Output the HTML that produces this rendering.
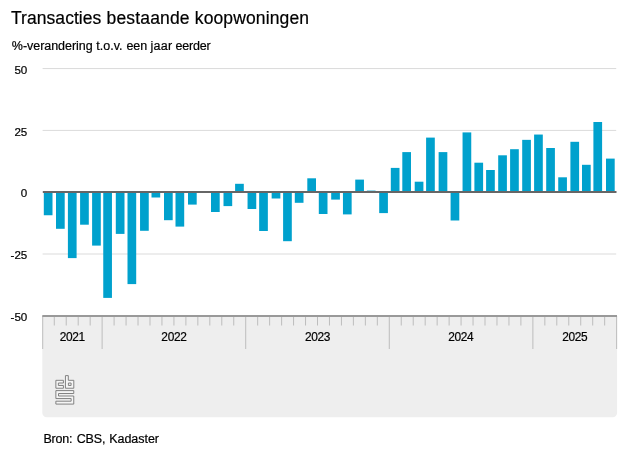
<!DOCTYPE html>
<html lang="nl"><head><meta charset="utf-8"><title>Transacties bestaande koopwoningen</title>
<style>
html,body{margin:0;padding:0;background:#fff;}
body{width:627px;height:470px;overflow:hidden;font-family:"Liberation Sans",Arial,sans-serif;}
svg{display:block}
text{font-family:"Liberation Sans",Arial,sans-serif;fill:#000;stroke:#000;stroke-width:0.2px}
</style></head><body>
<svg width="627" height="470" viewBox="0 0 627 470">
<rect width="627" height="470" fill="#fff"/>
<text y="23.5" font-size="17.5"><tspan x="10.96" letter-spacing="0.06">Transacties </tspan><tspan x="106.55" letter-spacing="0.16">bestaande </tspan><tspan x="194.75" letter-spacing="0.125">koopwoningen</tspan></text>
<text y="49.95" font-size="12.5"><tspan x="11.85" letter-spacing="-0.04">%-verandering </tspan><tspan x="96.35">t.o.v. </tspan><tspan x="126.4">een </tspan><tspan x="150.45" letter-spacing="0.3">jaar </tspan><tspan x="175.4" letter-spacing="-0.17">eerder</tspan></text>

<rect x="42.6" y="68.05" width="573.6" height="1" fill="#dbdbdb"/>
<rect x="42.6" y="129.90" width="573.6" height="1" fill="#dbdbdb"/>
<rect x="42.6" y="253.50" width="573.6" height="1" fill="#dbdbdb"/>
<path d="M42.3 316H617.1V412.7a4.5 4.5 0 0 1-4.5 4.5H46.8a4.5 4.5 0 0 1-4.5-4.5Z" fill="#eeeeee"/>
<rect x="42.20" y="316" width="1" height="33" fill="#bdbdbd"/>
<rect x="53.77" y="316" width="1" height="9.5" fill="#bdbdbd"/>
<rect x="65.73" y="316" width="1" height="9.5" fill="#bdbdbd"/>
<rect x="77.69" y="316" width="1" height="9.5" fill="#bdbdbd"/>
<rect x="89.66" y="316" width="1" height="9.5" fill="#bdbdbd"/>
<rect x="101.62" y="316" width="1" height="33" fill="#bdbdbd"/>
<rect x="113.59" y="316" width="1" height="9.5" fill="#bdbdbd"/>
<rect x="125.55" y="316" width="1" height="9.5" fill="#bdbdbd"/>
<rect x="137.52" y="316" width="1" height="9.5" fill="#bdbdbd"/>
<rect x="149.49" y="316" width="1" height="9.5" fill="#bdbdbd"/>
<rect x="161.45" y="316" width="1" height="9.5" fill="#bdbdbd"/>
<rect x="173.42" y="316" width="1" height="9.5" fill="#bdbdbd"/>
<rect x="185.38" y="316" width="1" height="9.5" fill="#bdbdbd"/>
<rect x="197.34" y="316" width="1" height="9.5" fill="#bdbdbd"/>
<rect x="209.31" y="316" width="1" height="9.5" fill="#bdbdbd"/>
<rect x="221.27" y="316" width="1" height="9.5" fill="#bdbdbd"/>
<rect x="233.24" y="316" width="1" height="9.5" fill="#bdbdbd"/>
<rect x="245.20" y="316" width="1" height="33" fill="#bdbdbd"/>
<rect x="257.17" y="316" width="1" height="9.5" fill="#bdbdbd"/>
<rect x="269.13" y="316" width="1" height="9.5" fill="#bdbdbd"/>
<rect x="281.10" y="316" width="1" height="9.5" fill="#bdbdbd"/>
<rect x="293.06" y="316" width="1" height="9.5" fill="#bdbdbd"/>
<rect x="305.03" y="316" width="1" height="9.5" fill="#bdbdbd"/>
<rect x="317.00" y="316" width="1" height="9.5" fill="#bdbdbd"/>
<rect x="328.96" y="316" width="1" height="9.5" fill="#bdbdbd"/>
<rect x="340.93" y="316" width="1" height="9.5" fill="#bdbdbd"/>
<rect x="352.89" y="316" width="1" height="9.5" fill="#bdbdbd"/>
<rect x="364.86" y="316" width="1" height="9.5" fill="#bdbdbd"/>
<rect x="376.82" y="316" width="1" height="9.5" fill="#bdbdbd"/>
<rect x="388.79" y="316" width="1" height="33" fill="#bdbdbd"/>
<rect x="400.75" y="316" width="1" height="9.5" fill="#bdbdbd"/>
<rect x="412.72" y="316" width="1" height="9.5" fill="#bdbdbd"/>
<rect x="424.68" y="316" width="1" height="9.5" fill="#bdbdbd"/>
<rect x="436.64" y="316" width="1" height="9.5" fill="#bdbdbd"/>
<rect x="448.61" y="316" width="1" height="9.5" fill="#bdbdbd"/>
<rect x="460.57" y="316" width="1" height="9.5" fill="#bdbdbd"/>
<rect x="472.54" y="316" width="1" height="9.5" fill="#bdbdbd"/>
<rect x="484.50" y="316" width="1" height="9.5" fill="#bdbdbd"/>
<rect x="496.47" y="316" width="1" height="9.5" fill="#bdbdbd"/>
<rect x="508.44" y="316" width="1" height="9.5" fill="#bdbdbd"/>
<rect x="520.40" y="316" width="1" height="9.5" fill="#bdbdbd"/>
<rect x="532.37" y="316" width="1" height="33" fill="#bdbdbd"/>
<rect x="544.33" y="316" width="1" height="9.5" fill="#bdbdbd"/>
<rect x="556.29" y="316" width="1" height="9.5" fill="#bdbdbd"/>
<rect x="568.26" y="316" width="1" height="9.5" fill="#bdbdbd"/>
<rect x="580.22" y="316" width="1" height="9.5" fill="#bdbdbd"/>
<rect x="592.19" y="316" width="1" height="9.5" fill="#bdbdbd"/>
<rect x="604.15" y="316" width="1" height="9.5" fill="#bdbdbd"/>
<rect x="616.12" y="316" width="1" height="33" fill="#bdbdbd"/>
<rect x="42.3" y="315" width="574.7" height="2" fill="#999"/>
<rect x="43.80" y="192.05" width="8.7" height="23.20" fill="#00a1cd"/>
<rect x="56.00" y="192.05" width="8.7" height="36.75" fill="#00a1cd"/>
<rect x="67.90" y="192.05" width="8.7" height="66.05" fill="#00a1cd"/>
<rect x="80.10" y="192.05" width="8.7" height="32.65" fill="#00a1cd"/>
<rect x="92.10" y="192.05" width="8.7" height="53.55" fill="#00a1cd"/>
<rect x="103.25" y="192.05" width="8.7" height="105.85" fill="#00a1cd"/>
<rect x="115.80" y="192.05" width="8.7" height="41.85" fill="#00a1cd"/>
<rect x="127.50" y="192.05" width="8.7" height="92.05" fill="#00a1cd"/>
<rect x="140.05" y="192.05" width="8.7" height="38.75" fill="#00a1cd"/>
<rect x="151.50" y="192.05" width="8.7" height="5.45" fill="#00a1cd"/>
<rect x="164.00" y="192.05" width="8.7" height="28.15" fill="#00a1cd"/>
<rect x="175.50" y="192.05" width="8.7" height="34.55" fill="#00a1cd"/>
<rect x="188.00" y="192.05" width="8.7" height="12.55" fill="#00a1cd"/>
<rect x="211.00" y="192.05" width="8.7" height="19.95" fill="#00a1cd"/>
<rect x="223.50" y="192.05" width="8.7" height="14.05" fill="#00a1cd"/>
<rect x="235.10" y="183.80" width="8.7" height="8.25" fill="#00a1cd"/>
<rect x="247.55" y="192.05" width="8.7" height="16.95" fill="#00a1cd"/>
<rect x="259.15" y="192.05" width="8.7" height="38.95" fill="#00a1cd"/>
<rect x="271.65" y="192.05" width="8.7" height="6.45" fill="#00a1cd"/>
<rect x="283.10" y="192.05" width="8.7" height="49.15" fill="#00a1cd"/>
<rect x="294.80" y="192.05" width="8.7" height="10.75" fill="#00a1cd"/>
<rect x="307.30" y="178.30" width="8.7" height="13.75" fill="#00a1cd"/>
<rect x="318.80" y="192.05" width="8.7" height="21.95" fill="#00a1cd"/>
<rect x="331.20" y="192.05" width="8.7" height="7.55" fill="#00a1cd"/>
<rect x="342.95" y="192.05" width="8.7" height="22.35" fill="#00a1cd"/>
<rect x="355.25" y="179.60" width="8.7" height="12.45" fill="#00a1cd"/>
<rect x="366.87" y="190.60" width="8.7" height="1.45" fill="#00a1cd"/>
<rect x="379.20" y="192.05" width="8.7" height="21.05" fill="#00a1cd"/>
<rect x="390.80" y="167.90" width="8.7" height="24.15" fill="#00a1cd"/>
<rect x="402.30" y="152.10" width="8.7" height="39.95" fill="#00a1cd"/>
<rect x="414.71" y="181.70" width="8.7" height="10.35" fill="#00a1cd"/>
<rect x="426.10" y="137.60" width="8.7" height="54.45" fill="#00a1cd"/>
<rect x="438.63" y="152.10" width="8.7" height="39.95" fill="#00a1cd"/>
<rect x="450.59" y="192.05" width="8.7" height="28.45" fill="#00a1cd"/>
<rect x="462.55" y="132.40" width="8.7" height="59.65" fill="#00a1cd"/>
<rect x="474.40" y="162.70" width="8.7" height="29.35" fill="#00a1cd"/>
<rect x="486.10" y="170.00" width="8.7" height="22.05" fill="#00a1cd"/>
<rect x="498.20" y="155.30" width="8.7" height="36.75" fill="#00a1cd"/>
<rect x="510.10" y="149.20" width="8.7" height="42.85" fill="#00a1cd"/>
<rect x="522.20" y="139.85" width="8.7" height="52.20" fill="#00a1cd"/>
<rect x="534.10" y="134.55" width="8.7" height="57.50" fill="#00a1cd"/>
<rect x="546.20" y="148.00" width="8.7" height="44.05" fill="#00a1cd"/>
<rect x="558.23" y="177.30" width="8.7" height="14.75" fill="#00a1cd"/>
<rect x="570.40" y="141.80" width="8.7" height="50.25" fill="#00a1cd"/>
<rect x="582.00" y="164.80" width="8.7" height="27.25" fill="#00a1cd"/>
<rect x="593.40" y="122.00" width="8.7" height="70.05" fill="#00a1cd"/>
<rect x="606.00" y="158.60" width="8.7" height="33.45" fill="#00a1cd"/>
<rect x="42.8" y="191" width="573.7" height="2" fill="#666"/>
<text x="27.3" y="73.75" font-size="11.6" text-anchor="end">50</text>
<text x="27.3" y="135.55" font-size="11.6" text-anchor="end">25</text>
<text x="27.3" y="197.3" font-size="11.6" text-anchor="end">0</text>
<text x="27.3" y="258.7" font-size="11.6" text-anchor="end">-25</text>
<text x="27.3" y="320.65" font-size="11.6" text-anchor="end">-50</text>
<text x="72.26" y="340.5" font-size="11.9" letter-spacing="-0.3" text-anchor="middle">2021</text>
<text x="173.97" y="340.5" font-size="11.9" letter-spacing="-0.3" text-anchor="middle">2022</text>
<text x="317.55" y="340.5" font-size="11.9" letter-spacing="-0.3" text-anchor="middle">2023</text>
<text x="460.82" y="340.5" font-size="11.9" letter-spacing="-0.3" text-anchor="middle">2024</text>
<text x="574.79" y="340.5" font-size="11.9" letter-spacing="-0.3" text-anchor="middle">2025</text>
<g fill="#f5f5f5" stroke="#7c7c7c" stroke-width="0.95" stroke-linejoin="round"><path d="M55.87 380.32L63.41 380.32L63.41 383.00L58.36 383.00L58.36 385.48L63.41 385.48L63.41 388.24L55.87 388.24Z"/><path fill-rule="evenodd" d="M65.44 375.61L68.31 375.61L68.31 380.32L73.80 380.32L73.80 388.24L65.44 388.24ZM68.40 383.00L71.10 383.00L71.10 385.48L68.40 385.48Z"/><path d="M55.87 390.60L73.75 390.60L73.75 393.50L58.50 393.50L58.50 396.00L73.75 396.00L73.75 404.08L55.87 404.08L55.87 401.20L71.15 401.20L71.15 398.55L55.87 398.55Z"/></g>
<text y="442.8" font-size="12.5"><tspan x="43.4" letter-spacing="-0.2">Bron: </tspan><tspan x="76.7" letter-spacing="-0.15">CBS, </tspan><tspan x="109.2" letter-spacing="-0.03">Kadaster</tspan></text>
</svg></body></html>
